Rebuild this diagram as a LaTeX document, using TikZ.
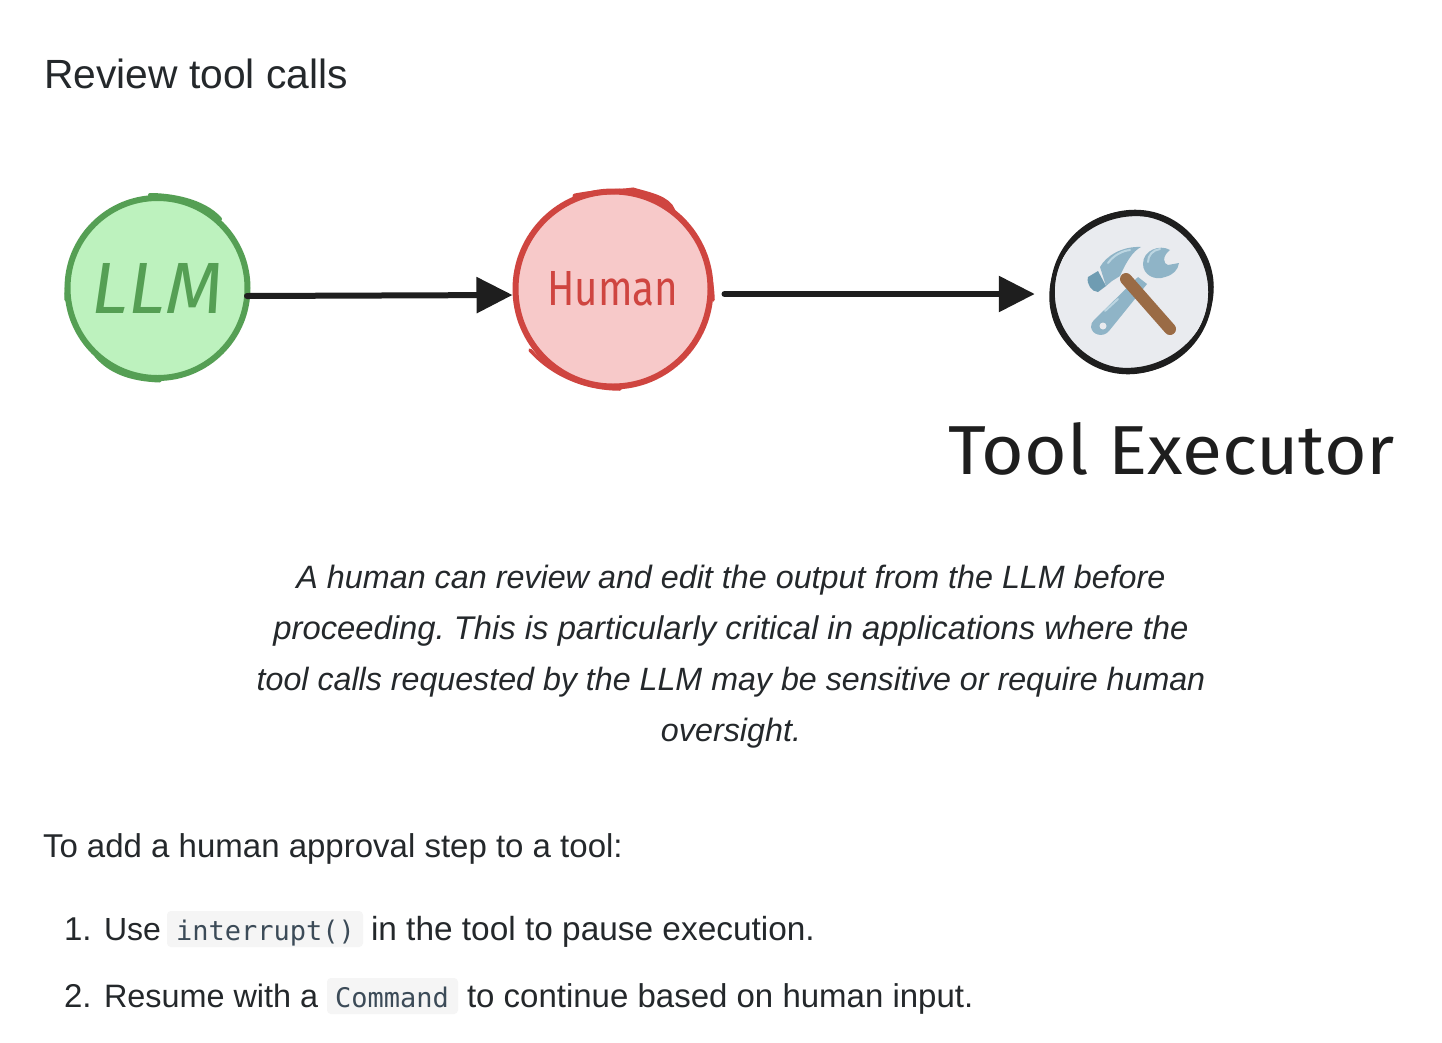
\documentclass[tikz,border=0pt]{standalone}
\usepackage{fontspec}
\usepackage{graphicx}
\setmainfont{Liberation Sans}
\setmonofont{DejaVu Sans Mono}
\newfontfamily\handfont{Fira Sans}
\usetikzlibrary{arrows.meta}
\definecolor{ink}{HTML}{1E1E1E}
\definecolor{bodyink}{HTML}{24282B}
\definecolor{codeink}{HTML}{3C4B58}
\definecolor{codebg}{HTML}{F5F5F5}
\definecolor{llmfill}{HTML}{BDF2BE}
\definecolor{llmline}{HTML}{559F54}
\definecolor{humanfill}{HTML}{F7C9C9}
\definecolor{humanline}{HTML}{CF4540}
\definecolor{toolfill}{HTML}{E9EBEF}
\definecolor{steel}{HTML}{8FB4C7}
\definecolor{steellight}{HTML}{BCD6E2}
\definecolor{steeldark}{HTML}{6F9CB2}
\definecolor{wood}{HTML}{9A6B45}
\tikzset{
  x=1pt,y=-1pt,
  sketchcircle/.style={circle,inner sep=0pt,line width=6pt,align=center},
  flow/.style={line width=6pt,color=ink,line cap=round,-{Triangle[length=36pt,width=35pt]}},
  bodytext/.style={anchor=base west,inner sep=0pt,outer sep=0pt,text=bodyink,font=\fontsize{33}{38}\selectfont},
  captiontext/.style={anchor=base,inner sep=0pt,outer sep=0pt,text=bodyink,font=\fontsize{32.3}{38}\selectfont\itshape},
  codebox/.style={anchor=north west,inner sep=0pt,outer sep=0pt,fill=codebg,rounded corners=4pt},
  codetext/.style={anchor=base west,inner sep=0pt,outer sep=0pt,text=codeink,font=\ttfamily\fontsize{27}{32}\selectfont},
}
\begin{document}
\frenchspacing
\begin{tikzpicture}
\useasboundingbox (0,0) rectangle (1442,1042);
\fill[white] (0,0) rectangle (1442,1042);
% title
\node[bodytext,font=\fontsize{40.8}{46}\selectfont] (title) at (44,88) {Review tool calls};
% nodes
\node[sketchcircle,draw=llmline,fill=llmfill,text=llmline,minimum size=180pt] (llm) at (157.5,288)
  {\resizebox{131pt}{50pt}{\handfont\itshape LLM}};
\node[sketchcircle,draw=humanline,fill=humanfill,text=humanline,minimum size=195pt] (human) at (613,289)
  {\resizebox{131pt}{34pt}{\handfont Human}};
\node[sketchcircle,draw=ink,fill=toolfill,minimum size=158pt,line width=4.5pt] (tool) at (1131.5,292) {};
% sketch wobble
\draw[llmline,line width=4pt,line cap=round] (150,195) .. controls (170,195) and (203,200) .. (220,219);
\draw[llmline,line width=3pt,line cap=round] (96,356) .. controls (110,372) and (130,380) .. (160,381);
\draw[llmline,line width=3pt,line cap=round] (66,300) .. controls (65,270) and (75,240) .. (95,222);
\draw[humanline,line width=5pt,line cap=round] (575,196) .. controls (600,191) and (620,192) .. (633,190) .. controls (650,195) and (668,198) .. (673,211);
\draw[humanline,line width=3.5pt,line cap=round] (673,211) .. controls (695,228) and (712,262) .. (713,300);
\draw[humanline,line width=3.5pt,line cap=round] (530,350) .. controls (555,378) and (590,389) .. (620,389);
\draw[ink,line width=2.5pt,rotate around={25:(tool.center)}] (tool.center) ellipse [x radius=82pt,y radius=76pt];
\draw[ink,line width=2.5pt,rotate around={-30:(tool.center)}] (tool.center) ellipse [x radius=78pt,y radius=82pt];
% connectors
\draw[flow] ([xshift=-3.5pt,yshift=-8pt]llm.east) -- ([yshift=-6pt]human.west);
\draw[flow] ([xshift=11pt,yshift=-5pt]human.east) -- ([xshift=-15.5pt,yshift=-2pt]tool.west);
% wrench
\fill[steel,line join=round] (1094,320) -- (1138,277) -- (1147,284) -- (1109,331) .. controls (1103,338) and (1092,335) .. (1091,327) .. controls (1091,324) and (1092,322) .. (1094,320) -- cycle;
\fill[steel] (1170,250) .. controls (1160,244) and (1143,250) .. (1143,264) .. controls (1143,275) and (1155,281) .. (1165,277) .. controls (1173,275) and (1178,270) .. (1179,263) -- (1168,265) .. controls (1163,264) and (1162,256) .. (1170,250) -- cycle;
\fill[toolfill] (1103,326) circle [radius=3.5pt];
\draw[steellight,line width=2pt,line cap=round] (1105,311) -- (1118,299);
\draw[steellight,line width=2pt,line cap=round] (1148,262) .. controls (1148,255) and (1153,250) .. (1160,249);
% hammer
\draw[wood,line width=12pt,line cap=round] (1126,279) -- (1170,329);
\fill[steel] (1100,267) .. controls (1106,256) and (1122,246) .. (1141,247) .. controls (1133,251) and (1126,262) .. (1120,276) -- (1112,281) -- (1106,286) -- cycle;
\fill[steeldark] (1088,277) -- (1098,271) -- (1106,286) -- (1098,292) .. controls (1092,292) and (1086,284) .. (1088,277) -- cycle;
\draw[steellight,line width=2pt,line cap=round] (1108,263) .. controls (1114,255) and (1122,251) .. (1130,250);
% tool label
\node[inner sep=0pt,outer sep=0pt,anchor=base west,text=ink] (toollabel) at (948,474)
  {\resizebox{447pt}{52pt}{\handfont Tool Executor}};
% caption
\node[captiontext] (cap1) at (731,588) {A human can review and edit the output from the LLM before};
\node[captiontext,font=\fontsize{32.8}{38}\selectfont\itshape] (cap2) at (731,639) {proceeding. This is particularly critical in applications where the};
\node[captiontext,font=\fontsize{32.2}{38}\selectfont\itshape] (cap3) at (731,690) {tool calls requested by the LLM may be sensitive or require human};
\node[captiontext] (cap4) at (731,741) {oversight.};
% body
\node[bodytext] (intro) at (43,857) {To add a human approval step to a tool:};
\node[bodytext] (num1) at (64,940) {1.};
\node[bodytext,font=\fontsize{32}{38}\selectfont] (use) at (104,940) {Use};
\node[codebox,minimum width=196pt,minimum height=36pt] (box1) at (167,911) {};
\node[codetext] (code1) at (176,940) {interrupt()};
\node[bodytext,font=\fontsize{33.4}{38}\selectfont] (rest1) at (371,940) {in the tool to pause execution.};
\node[bodytext] (num2) at (64,1007) {2.};
\node[bodytext,font=\fontsize{32.4}{38}\selectfont] (resume) at (104,1007) {Resume with a};
\node[codebox,minimum width=131pt,minimum height=36pt] (box2) at (327,978) {};
\node[codetext] (code2) at (335,1007) {Command};
\node[bodytext] (rest2) at (467,1007) {to continue based on human input.};
\end{tikzpicture}
\end{document}
